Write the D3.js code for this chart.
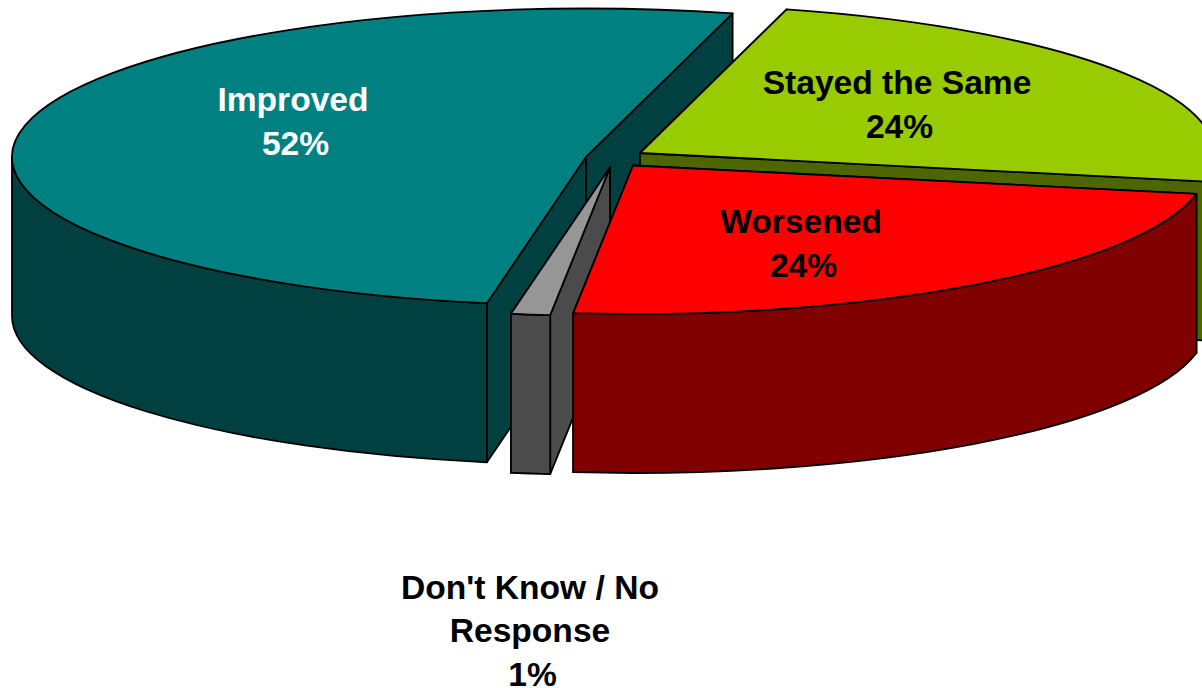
<!DOCTYPE html>
<html>
<head>
<meta charset="utf-8">
<script src="https://cdn.jsdelivr.net/npm/d3@7"></script>
<style>
  html, body { margin: 0; padding: 0; background: #fff; overflow: hidden; }
  text { font-family: "Liberation Sans", Arial, sans-serif; font-weight: bold; font-size: 33.6px; text-anchor: middle; }
</style>
</head>
<body>
<div id="chart"></div>
<script>
// data, in pie order going clockwise from the start angle
var categories = ["Stayed the Same", "Worsened", "Don't Know / No Response", "Improved"];
// slice sizes as measured on the picture, and the rounded numbers it prints
var shares = [23.95, 23.6, 1.1, 51.35];
var percents = [24, 24, 1, 52];
var labelLines = [["Stayed the Same"], ["Worsened"], ["Don't Know / No", "Response"], ["Improved"]];

var topColors = ["#99cc00", "#ff0000", "#969696", "#008080"];
var sideColors = ["#4d6600", "#800000", "#4b4b4b", "#004040"];
var textColors = ["#000", "#000", "#000", "#fff"];

// where each exploded slice's apex sits, and where its label goes
var apexX = [640, 633, 610, 586];
var apexY = [153, 165.5, 167.5, 157];
var labelX = [897, 801, 530, 293];
var labelY = [94, 233, 598.5, 111];
var drawOrder = [3, 0, 2, 1];

var width = 1202;
var height = 688;
var rx = 574;
var ry = 148.5;
var depth = 159;
var startAngle = 14.8 * Math.PI / 180;

var svg = d3.select("#chart").append("svg")
    .attr("width", width)
    .attr("height", height)
    .style("display", "block");

var pie = d3.pie().sort(null)
    .startAngle(startAngle)
    .endAngle(startAngle + 2 * Math.PI);
var arcs = pie(shares);

function rimPoint(i, a) {
  return [apexX[i] + rx * Math.sin(a), apexY[i] - ry * Math.cos(a)];
}

function arcTo(p, sweep) {
  return "A" + rx + "," + ry + " 0 0 " + sweep + " " + p[0] + "," + p[1];
}

function drop(p) {
  return [p[0], p[1] + depth];
}

function topPath(i, d) {
  // big slice is split in two so the arc flags stay simple
  var mid = (d.startAngle + d.endAngle) / 2;
  return "M" + apexX[i] + "," + apexY[i] +
    "L" + rimPoint(i, d.startAngle) +
    arcTo(rimPoint(i, mid), 1) +
    arcTo(rimPoint(i, d.endAngle), 1) + "Z";
}

function cutPath(i, a) {
  var apex = [apexX[i], apexY[i]];
  var rim = rimPoint(i, a);
  return "M" + apex + "L" + rim + "L" + drop(rim) + "L" + drop(apex) + "Z";
}

function wallPath(i, d) {
  // only the part of the rim facing the viewer
  var a0 = Math.max(d.startAngle, Math.PI / 2);
  var a1 = Math.min(d.endAngle, 3 * Math.PI / 2);
  if (a1 <= a0) return null;
  var p0 = rimPoint(i, a0);
  var p1 = rimPoint(i, a1);
  return "M" + p0 + arcTo(p1, 1) + "L" + drop(p1) + arcTo(drop(p0), 0) + "Z";
}

// the two cut faces of a slice, the one further back first
function facesBackToFront(i) {
  var d = arcs[i];
  return rimPoint(i, d.startAngle)[1] < rimPoint(i, d.endAngle)[1]
    ? [d.startAngle, d.endAngle]
    : [d.endAngle, d.startAngle];
}

var slices = svg.selectAll(".slice")
    .data(drawOrder)
    .enter().append("g")
    .attr("class", "slice")
    .attr("stroke", "#000")
    .attr("stroke-width", 1.8)
    .attr("stroke-linejoin", "round");

slices.append("path")
    .attr("fill", function (i) { return sideColors[i]; })
    .attr("d", function (i) { return cutPath(i, facesBackToFront(i)[0]); });

slices.append("path")
    .attr("fill", function (i) { return sideColors[i]; })
    .attr("d", function (i) { return cutPath(i, facesBackToFront(i)[1]); });

slices.append("path")
    .attr("fill", function (i) { return sideColors[i]; })
    .attr("d", function (i) { return wallPath(i, arcs[i]); });

slices.append("path")
    .attr("fill", function (i) { return topColors[i]; })
    .attr("d", function (i) { return topPath(i, arcs[i]); });

var labels = svg.selectAll(".label")
    .data(categories)
    .enter().append("text")
    .attr("class", "label")
    .attr("fill", function (d, i) { return textColors[i]; });

labels.selectAll("tspan")
    .data(function (d, i) {
      var lines = labelLines[i].map(function (t) { return { text: t, dx: 0 }; });
      lines.push({ text: percents[i] + "%", dx: 2.5 });
      return lines.map(function (l, n) {
        return { text: l.text, x: labelX[i] + l.dx, y: labelY[i] + n * 43.5 };
      });
    })
    .enter().append("tspan")
    .attr("x", function (d) { return d.x; })
    .attr("y", function (d) { return d.y; })
    .text(function (d) { return d.text; });
</script>
</body>
</html>
